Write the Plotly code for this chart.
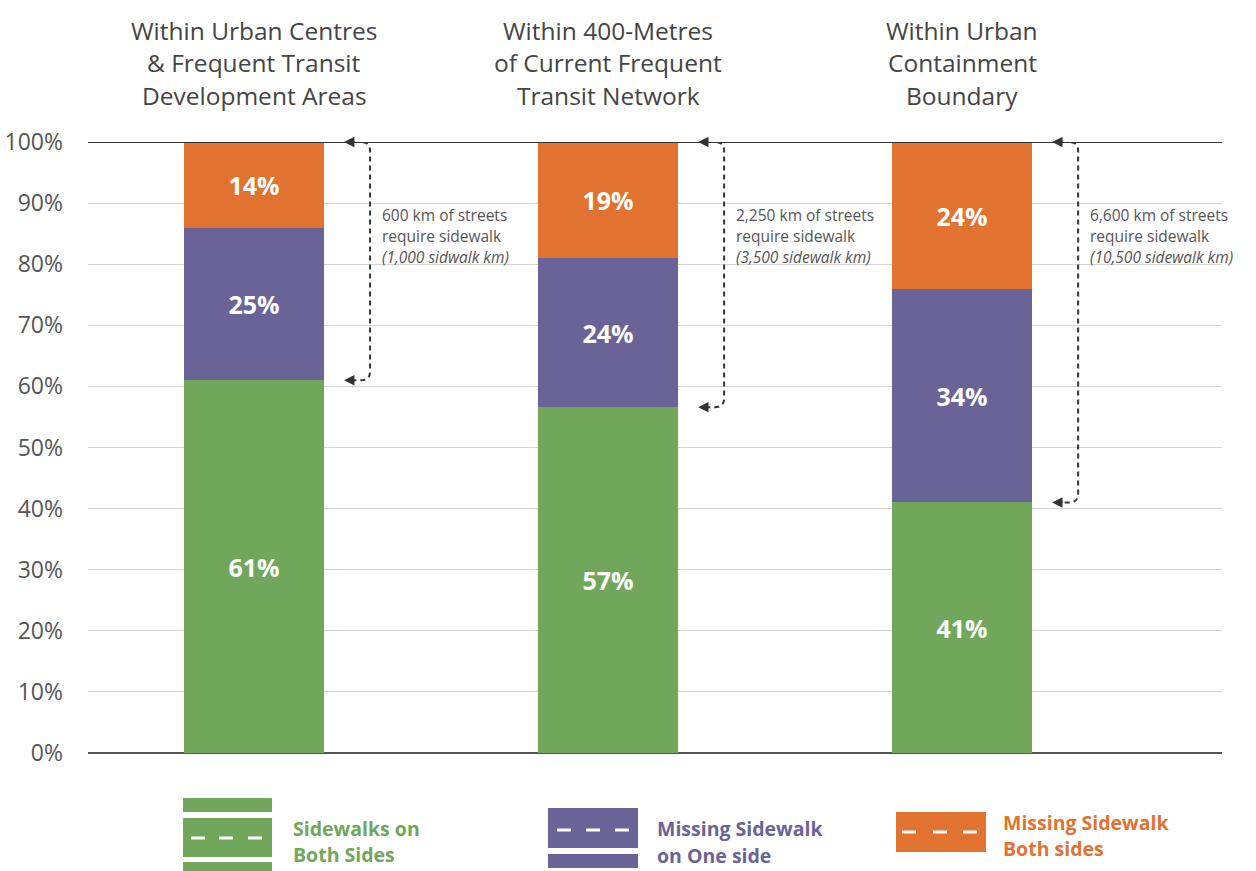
import plotly.graph_objects as go

# ---------------- data ----------------
title_lines = [
    ["Within Urban Centres", "& Frequent Transit", "Development Areas"],
    ["Within 400-Metres", "of Current Frequent", "Transit Network"],
    ["Within Urban", "Containment", "Boundary"],
]
x_pos = [0, 1, 2]
both_sides = [61, 56.6, 41]          # Sidewalks on Both Sides
one_side_missing = [25, 24.4, 35]    # Missing Sidewalk on One side
both_missing = [14, 19, 24]          # Missing Sidewalk Both sides
both_labels = ["61%", "57%", "41%"]
one_labels = ["25%", "24%", "34%"]
miss_labels = ["14%", "19%", "24%"]
street_km = ["600 km of streets", "2,250 km of streets", "6,600 km of streets"]
sidewalk_km = ["(1,000 sidwalk km)", "(3,500 sidewalk km)", "(10,500 sidewalk km)"]
y_ticks = [0, 10, 20, 30, 40, 50, 60, 70, 80, 90, 100]
y_ticktext = [f"{v}%" for v in y_ticks]
legend_names = [["Sidewalks on", "Both Sides"], ["Missing Sidewalk", "on One side"], ["Missing Sidewalk", "Both sides"]]

GREEN = "#71A75A"
PURPLE = "#6A6398"
ORANGE = "#E2722F"
FONT = "Open Sans"

# ---------------- geometry helpers ----------------
W, H = 1256, 871
ML, MR, MT, MB = 88, 34, 142, 118
PW, PH = W - ML - MR, H - MT - MB
XR = [-0.469, 2.734]
px_per_x = PW / (XR[1] - XR[0])
px_per_y = PH / 100.0
bar_w = 140 / px_per_x


def PX(px):
    return (px - ML) / PW


def PY(py):
    return (H - MB - py) / PH


fig = go.Figure()
for vals, labels, color, name in [
    (both_sides, both_labels, GREEN, "Sidewalks on Both Sides"),
    (one_side_missing, one_labels, PURPLE, "Missing Sidewalk on One side"),
    (both_missing, miss_labels, ORANGE, "Missing Sidewalk Both sides"),
]:
    fig.add_trace(go.Bar(
        x=x_pos, y=vals, width=bar_w, name=name,
        marker=dict(color=color, line=dict(width=0)),
        text=labels, textposition="inside", insidetextanchor="middle",
        textangle=0,
        textfont=dict(family=FONT, size=25, color="white", weight="bold"),
        hoverinfo="skip",
    ))

shapes = []
annotations = []

# top 100% line
shapes.append(dict(type="line", xref="paper", yref="y", x0=0, x1=1, y0=100, y1=100,
                   line=dict(color="#333333", width=2), layer="above"))

# dashed bracket arrows + notes
for i in range(3):
    right = x_pos[i] + bar_w / 2
    tipx = right + 20 / px_per_x
    vx = right + 46 / px_per_x
    top = both_sides[i] + one_side_missing[i] + both_missing[i]
    bot = both_sides[i]
    rx = 9 / px_per_x
    ry = 9 / px_per_y
    path = (f"M {tipx + 10/px_per_x},{top} L {vx - rx},{top} Q {vx},{top} {vx},{top - ry} "
            f"L {vx},{bot + ry} Q {vx},{bot} {vx - rx},{bot} L {tipx + 10/px_per_x},{bot}")
    shapes.append(dict(type="path", xref="x", yref="y", path=path,
                       line=dict(color="#333333", width=2, dash="5px,4px"), layer="above"))
    for yy in (top, bot):
        annotations.append(dict(x=tipx, y=yy, xref="x", yref="y",
                                ax=tipx + 12 / px_per_x, ay=yy, axref="x", ayref="y",
                                text="", showarrow=True, arrowhead=2, arrowsize=1.3,
                                arrowwidth=1.6, arrowcolor="#333333"))
    tx = vx + 10 / px_per_x
    for k, (txt, dy) in enumerate([(street_km[i], -73), ("require sidewalk", -94),
                                   (f"<i>{sidewalk_km[i]}</i>", -115)]):
        annotations.append(dict(x=tx, y=top, xref="x", yref="y", yshift=dy,
                                xanchor="left", yanchor="middle", showarrow=False,
                                text=txt, font=dict(family=FONT, size=15.5, color="#555555")))

# column titles
for i in range(3):
    for line, py in zip(title_lines[i], [30, 62, 95]):
        annotations.append(dict(x=x_pos[i], y=PY(py), xref="x", yref="paper",
                                xanchor="center", yanchor="middle", showarrow=False,
                                text=line, font=dict(family=FONT, size=24.5, color="#444444")))

# legend glyphs
def rect(x0, y0, x1, y1, color):
    shapes.append(dict(type="rect", xref="paper", yref="paper",
                       x0=PX(x0), x1=PX(x1), y0=PY(y1), y1=PY(y0),
                       fillcolor=color, line=dict(width=0), layer="above"))


def dashes(xs, y, color="white"):
    for x0 in xs:
        rect(x0, y - 1.5, x0 + 14, y + 1.5, color)


# green
rect(183, 798, 272, 812, GREEN)
rect(183, 818, 272, 857, GREEN)
rect(183, 862, 272, 875, GREEN)
dashes([191, 219, 248], 838)
# purple
rect(548, 808, 638, 848, PURPLE)
rect(548, 854, 638, 868, PURPLE)
dashes([557, 586, 615], 830)
# orange
rect(896, 812, 986, 852, ORANGE)
dashes([902, 933, 963], 832)

for names, color, x0, ys in [
    (legend_names[0], GREEN, 291, [828, 854]),
    (legend_names[1], PURPLE, 655, [828, 855]),
    (legend_names[2], ORANGE, 1001, [822, 848]),
]:
    for t, py in zip(names, ys):
        annotations.append(dict(x=PX(x0), y=PY(py), xref="paper", yref="paper",
                                xanchor="left", yanchor="middle", showarrow=False,
                                text=f"<b>{t}</b>", font=dict(family=FONT, size=19.5, color=color)))

fig.update_layout(
    width=W, height=H, autosize=False,
    margin=dict(l=ML, r=MR, t=MT, b=MB, pad=0),
    paper_bgcolor="white", plot_bgcolor="white",
    barmode="stack", bargap=0, showlegend=False,
    shapes=shapes, annotations=annotations,
    xaxis=dict(range=XR, visible=False, fixedrange=True),
    yaxis=dict(range=[0, 100], tickvals=y_ticks, ticktext=y_ticktext,
               showgrid=True, gridcolor="#d4d4d4", gridwidth=1,
               zeroline=True, zerolinecolor="#555555", zerolinewidth=2,
               showline=False, ticks="", ticklabelstandoff=24, automargin=False,
               tickfont=dict(family=FONT, size=23, color="#555555"), fixedrange=True),
    uniformtext=dict(minsize=8, mode="show"),
)

fig.write_html("out.html", config={"displayModeBar": False},
               post_script="document.body.style.margin='0';")
